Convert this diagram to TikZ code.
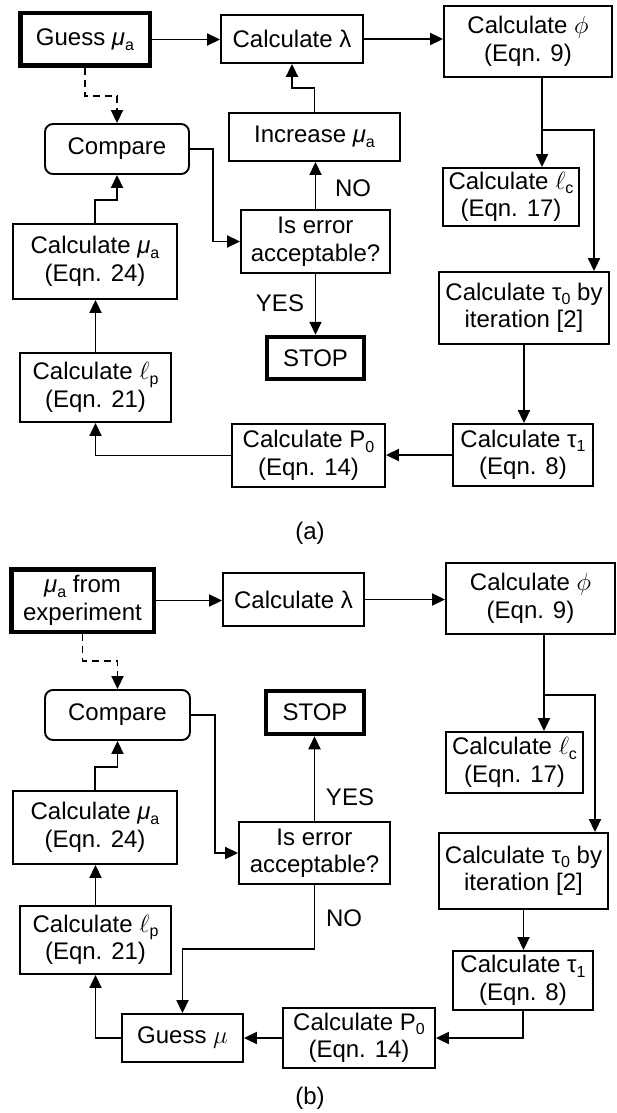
\documentclass[tikz,border=0pt]{standalone}
\usepackage{fontspec}
\setmainfont{Liberation Sans}
\usetikzlibrary{arrows.meta}
\newcommand{\lsub}[1]{\raisebox{-0.35ex}{\fontsize{16}{16}\selectfont #1}}
\newcommand{\mua}{\textit{μ}\lsub{a}}
\begin{document}
\begin{tikzpicture}[x=1pt,y=-1pt,
  every node/.style={font=\fontsize{24}{27.5}\selectfont, align=center, inner sep=0pt},
  box/.style={draw, line width=1.9pt},
  thickbox/.style={draw, line width=4.5pt},
  rbox/.style={draw, line width=1.9pt, rounded corners=8pt},
  arr/.style={line width=1.9pt, -{Triangle[length=13pt,width=12pt]}},
  darr/.style={line width=1.9pt, dash pattern=on 7pt off 5pt, -{Triangle[length=13pt,width=12pt]}},
  lbl/.style={font=\fontsize{24}{27.5}\selectfont}
]
\fill[white] (0,0) rectangle (617,1113);
\useasboundingbox (0,0) rectangle (617,1113);

% ---------------- panel (a) ----------------
\node[thickbox, minimum width=129.5pt, minimum height=52.5pt] (ga) at (85,39.5) {Guess \mua};
\node[box, minimum width=142pt, minimum height=48pt] (la) at (292,39) {Calculate λ};
\node[box, minimum width=168pt, minimum height=71pt] (pa) at (528,41.5) {Calculate $\phi$\\(Eqn. 9)};
\node[box, minimum width=171pt, minimum height=48pt] (ia) at (314.5,137) {Increase \mua};
\node[box, minimum width=149pt, minimum height=63pt] (ea) at (315.5,241.5) {Is error\\acceptable?};
\node[rbox, minimum width=144pt, minimum height=50pt] (ca) at (117,149) {Compare};
\node[box, minimum width=164pt, minimum height=75pt] (ma) at (95,261.5) {Calculate \mua\\(Eqn. 24)};
\node[thickbox, minimum width=97pt, minimum height=42pt] (sa) at (315.5,358) {STOP};
\node[box, minimum width=136pt, minimum height=58pt] (lca) at (511,197) {Calculate $\ell$\lsub{c}\\(Eqn. 17)};
\node[box, minimum width=170pt, minimum height=72pt] (ta0) at (524,308) {Calculate τ\lsub{0} by\\iteration [2]};
\node[box, minimum width=140pt, minimum height=62pt] (ta1) at (523,455) {Calculate τ\lsub{1}\\(Eqn. 8)};
\node[box, minimum width=153pt, minimum height=63pt] (p0a) at (308.5,455.5) {Calculate P\lsub{0}\\(Eqn. 14)};
\node[box, minimum width=151pt, minimum height=69pt] (lpa) at (95.5,387.5) {Calculate $\ell$\lsub{p}\\(Eqn. 21)};
\node (capa) at (310,533) {(a)};

\draw[arr] (ga.east) -- (ga.east -| la.west);
\draw[arr] (la.east) -- (la.east -| pa.west);
\draw[arr] (ia.north) -- (ia.north |- 0,88) -| (la.south);
\draw[arr] (ea.north) -- (ea.north |- ia.south);
\node[lbl] (noa) at (353,188) {NO};
\draw[arr] (ea.south) -- (ea.south |- sa.north);
\node[lbl] (yesa) at (280,303) {YES};
\draw[darr] (ga.south) -- (ga.south |- 0,96) -| (ca.north);
\draw[arr] (ca.east) -- (213,149) |- (ea.west);
\draw[arr] (ma.north) -- (ma.north |- 0,200) -| (ca.south);
\draw[arr] (lpa.north) -- (lpa.north |- ma.south);
\coordinate (ja) at (542,130);
\coordinate (ka) at (594,130);
\draw[arr] (ja |- pa.south) -- (ja |- lca.north);
\draw[arr] (ja) -- (ka) -- (ka |- ta0.north);
\draw[arr] (ta0.south) -- (ta0.south |- ta1.north);
\draw[arr] (ta1.west) -- (ta1.west -| p0a.east);
\draw[arr] (p0a.west) -| (lpa.south);

% ---------------- panel (b) ----------------
\node[thickbox, minimum width=142.5pt, minimum height=62.5pt] (gb) at (82.5,600.5) {\mua{} from\\experiment};
\node[box, minimum width=141pt, minimum height=53pt] (lb) at (293.5,599.5) {Calculate λ};
\node[box, minimum width=169pt, minimum height=71pt] (pb) at (530.5,598.5) {Calculate $\phi$\\(Eqn. 9)};
\node[rbox, minimum width=145pt, minimum height=50pt] (cb) at (117.5,715) {Compare};
\node[thickbox, minimum width=98pt, minimum height=43pt] (sb) at (315,712.5) {STOP};
\node[box, minimum width=137pt, minimum height=61pt] (lcb) at (514.5,762.5) {Calculate $\ell$\lsub{c}\\(Eqn. 17)};
\node[box, minimum width=164pt, minimum height=73pt] (mb) at (95,827.5) {Calculate \mua\\(Eqn. 24)};
\node[box, minimum width=151pt, minimum height=62pt] (eb) at (314.5,853) {Is error\\acceptable?};
\node[box, minimum width=169pt, minimum height=76pt] (tb0) at (523.5,871) {Calculate τ\lsub{0} by\\iteration [2]};
\node[box, minimum width=151pt, minimum height=68pt] (lpb) at (95.5,940) {Calculate $\ell$\lsub{p}\\(Eqn. 21)};
\node[box, minimum width=140pt, minimum height=59pt] (tb1) at (523,980.5) {Calculate τ\lsub{1}\\(Eqn. 8)};
\node[box, minimum width=121pt, minimum height=48pt] (gmb) at (182.5,1038) {Guess $\mu$};
\node[box, minimum width=152pt, minimum height=60pt] (p0b) at (359,1038) {Calculate P\lsub{0}\\(Eqn. 14)};
\node (capb) at (310,1098) {(b)};

\draw[arr] (gb.east) -- (gb.east -| lb.west);
\draw[arr] (lb.east) -- (lb.east -| pb.west);
\draw[darr] (gb.south) -- (gb.south |- 0,661) -| (cb.north);
\draw[arr] (cb.east) -- (215,715) |- (eb.west);
\draw[arr] (eb.north) -- (eb.north |- sb.south);
\node[lbl] (yesb) at (350,797) {YES};
\draw[arr] (mb.north) -- (mb.north |- 0,767) -| (cb.south);
\draw[arr] (lpb.north) -- (lpb.north |- mb.south);
\coordinate (jb) at (544,695);
\coordinate (kb) at (595,695);
\draw[arr] (jb |- pb.south) -- (jb |- lcb.north);
\draw[arr] (jb) -- (kb) -- (kb |- tb0.north);
\draw[arr] (tb0.south) -- (tb0.south |- tb1.north);
\draw[arr] (tb1.south) |- (p0b.east);
\draw[arr] (p0b.west) -- (p0b.west -| gmb.east);
\draw[arr] (gmb.west) -| (lpb.south);
\draw[arr] (eb.south) -- (eb.south |- 0,949) -| (gmb.north);
\node[lbl] (nob) at (344,918) {NO};
\end{tikzpicture}
\end{document}
